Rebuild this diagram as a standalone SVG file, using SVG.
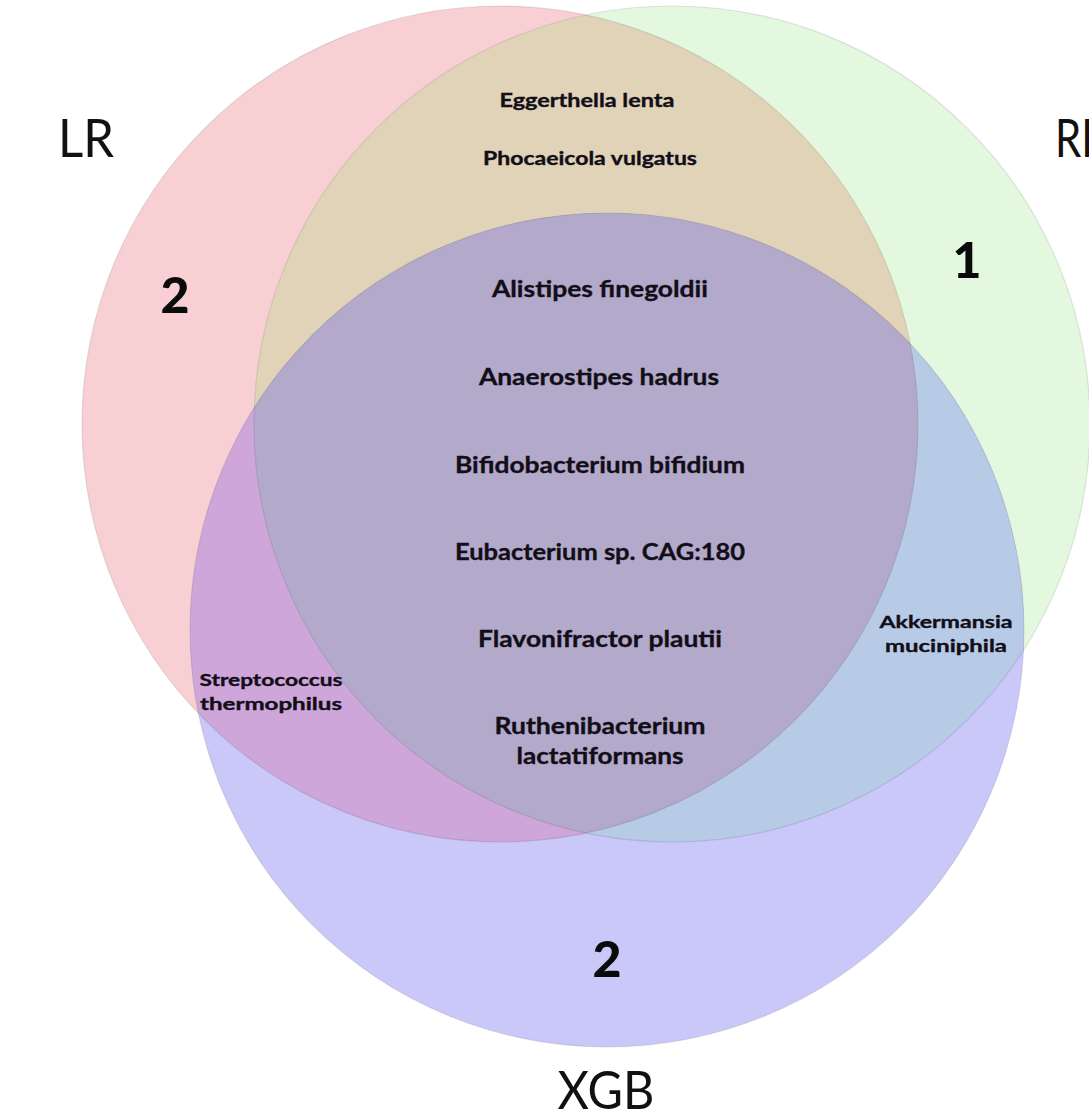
<svg xmlns="http://www.w3.org/2000/svg" width="1089" height="1120" viewBox="0 0 1089 1120">
<style>
.t{font-family:Lato,"Open Sans","Liberation Sans",sans-serif;font-weight:700;fill:#120e18;stroke:#120e18;stroke-width:0.35;text-anchor:middle}
.m{font-size:23px}
.s{font-size:18px}
.x{font-size:17px}
.n{font-family:Lato,"Open Sans","Liberation Sans",sans-serif;font-weight:900;font-size:50px;fill:#0a0a0a;text-anchor:middle}
.lab{font-family:Lato,"Open Sans","Liberation Sans",sans-serif;font-weight:400;font-size:53px;fill:#111;text-anchor:middle}
.edge{fill:none;stroke:#000;stroke-opacity:0.1;stroke-width:1.2}
</style>
<defs>
<clipPath id="cLR"><circle cx="500" cy="424" r="418"/></clipPath>
<clipPath id="cRF"><circle cx="672" cy="424" r="418"/></clipPath>
<clipPath id="cXGB"><circle cx="607" cy="630" r="417"/></clipPath>
</defs>
<rect width="1089" height="1120" fill="#ffffff"/>
<g id="set-LR"><circle cx="500" cy="424" r="418" fill="#f8d0d4"/></g>
<g id="set-RF"><circle cx="672" cy="424" r="418" fill="#e4f8e0"/></g>
<g id="set-XGB"><circle cx="607" cy="630" r="417" fill="#cac8f8"/></g>
<g id="overlaps">
<circle cx="672" cy="424" r="418" fill="#e0d3b7" clip-path="url(#cLR)"/>
<circle cx="607" cy="630" r="417" fill="#cea6da" clip-path="url(#cLR)"/>
<circle cx="607" cy="630" r="417" fill="#b7cbe7" clip-path="url(#cRF)"/>
<g clip-path="url(#cLR)"><circle cx="607" cy="630" r="417" fill="#b3a9ca" clip-path="url(#cRF)"/></g>
</g>
<g id="edges">
<circle class="edge" cx="500" cy="424" r="418"/>
<circle class="edge" cx="672" cy="424" r="418"/>
<circle class="edge" cx="607" cy="630" r="417"/>
</g>
<g id="labels">
<text class="lab" x="86" y="157" textLength="56" lengthAdjust="spacingAndGlyphs">LR</text>
<text class="lab" x="1055" y="157" style="text-anchor:start" textLength="50" lengthAdjust="spacingAndGlyphs">RF</text>
<text class="lab" x="606" y="1109" textLength="97" lengthAdjust="spacingAndGlyphs">XGB</text>
</g>
<g id="counts">
<text class="n" x="175" y="313">2</text>
<text class="n" x="967" y="278">1</text>
<text class="n" x="607" y="977">2</text>
</g>
<g id="region-LR-RF">
<text class="t s" x="587" y="107" textLength="175" lengthAdjust="spacingAndGlyphs">Eggerthella lenta</text>
<text class="t s" x="590" y="165" textLength="214" lengthAdjust="spacingAndGlyphs">Phocaeicola vulgatus</text>
</g>
<g id="region-all">
<text class="t m" x="600" y="297" textLength="216" lengthAdjust="spacingAndGlyphs">Alistipes finegoldii</text>
<text class="t m" x="599" y="385" textLength="240" lengthAdjust="spacingAndGlyphs">Anaerostipes hadrus</text>
<text class="t m" x="600" y="473" textLength="290" lengthAdjust="spacingAndGlyphs">Bifidobacterium bifidium</text>
<text class="t m" x="600" y="560" textLength="290" lengthAdjust="spacingAndGlyphs">Eubacterium sp. CAG:180</text>
<text class="t m" x="600" y="647" textLength="244" lengthAdjust="spacingAndGlyphs">Flavonifractor plautii</text>
<text class="t m" x="600" y="734" textLength="211" lengthAdjust="spacingAndGlyphs">Ruthenibacterium</text>
<text class="t m" x="600" y="764" textLength="167" lengthAdjust="spacingAndGlyphs">lactatiformans</text>
</g>
<g id="region-LR-XGB">
<text class="t x" x="271" y="686" textLength="143" lengthAdjust="spacingAndGlyphs">Streptococcus</text>
<text class="t x" x="271" y="710" textLength="142" lengthAdjust="spacingAndGlyphs">thermophilus</text>
</g>
<g id="region-RF-XGB">
<text class="t x" x="946" y="628" textLength="133" lengthAdjust="spacingAndGlyphs">Akkermansia</text>
<text class="t x" x="946" y="652" textLength="122" lengthAdjust="spacingAndGlyphs">muciniphila</text>
</g>
</svg>
